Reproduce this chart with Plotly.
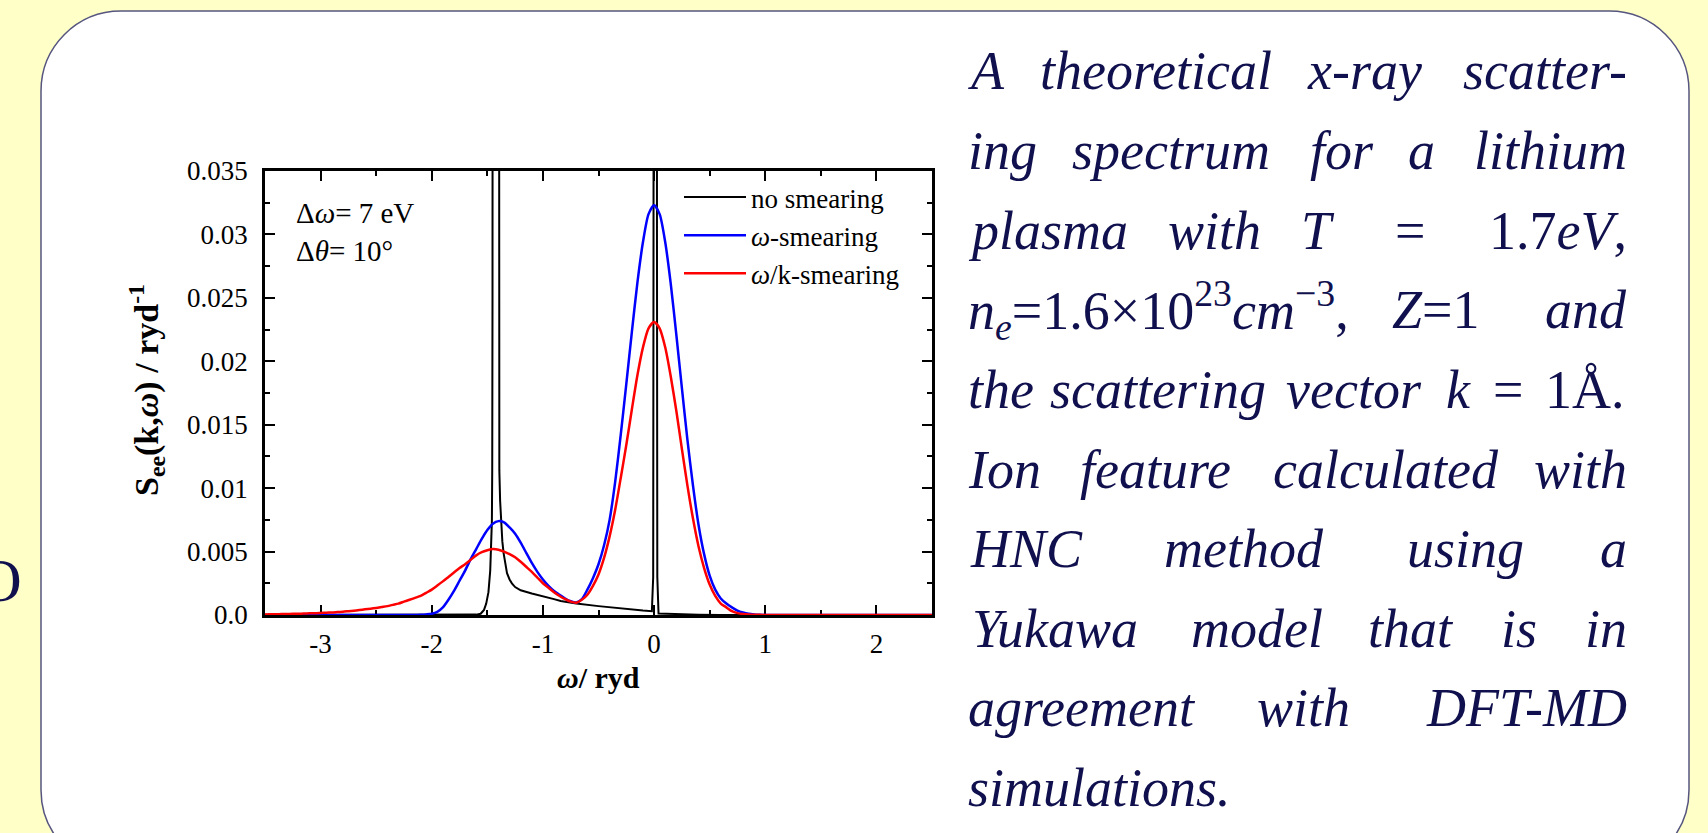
import plotly.graph_objects as go

W, H = 1708, 833
SERIF = "Liberation Serif"
NAVY = "#10104e"

# ---------------- data ----------------
omega = [
    -3.5, -3.45, -3.4, -3.35, -3.3, -3.25, -3.2, -3.15, -3.1, -3.05,
    -3.0, -2.95, -2.9, -2.85, -2.8, -2.75, -2.7, -2.65, -2.6, -2.55,
    -2.5, -2.45, -2.4, -2.35, -2.3, -2.25, -2.2, -2.15, -2.1, -2.05,
    -2.0, -1.95, -1.9, -1.85, -1.8, -1.75, -1.7, -1.65, -1.6, -1.55,
    -1.5, -1.45, -1.4, -1.35, -1.3, -1.25, -1.2, -1.15, -1.1, -1.05,
    -1.0, -0.95, -0.9, -0.85, -0.8, -0.75, -0.7, -0.65, -0.6, -0.55,
    -0.5, -0.45, -0.4, -0.35, -0.3, -0.25, -0.2, -0.15, -0.1, -0.05,
    0.0, 0.05, 0.1, 0.15, 0.2, 0.25, 0.3, 0.35, 0.4, 0.45,
    0.5, 0.55, 0.6, 0.65, 0.7, 0.75, 0.8, 0.85, 0.9, 0.95,
    1.0, 1.05, 1.1, 1.15, 1.2, 1.25, 1.3, 1.35, 1.4, 1.45,
    1.5, 1.55, 1.6, 1.65, 1.7, 1.75, 1.8, 1.85, 1.9, 1.95,
    2.0, 2.05, 2.1, 2.15, 2.2, 2.25, 2.3, 2.35, 2.4, 2.45,
    2.5,
]

s_omega_smearing = [
    0, 0, 0, 0, 0, 0, 0, 0, 0, 0,
    0, 0, 0, 0, 0, 0, 0, 0, 0, 0,
    0, 0, 0, 0, 0, 0, 0, 0, 0.00002, 0.00005,
    0.0001, 0.00025, 0.0006, 0.0012, 0.0019, 0.0027, 0.0035, 0.0044, 0.0052, 0.0060,
    0.0067, 0.0072, 0.0074, 0.0073, 0.0069, 0.0064, 0.0057, 0.0049, 0.0041, 0.0034,
    0.0028, 0.0023, 0.0019, 0.0016, 0.0013, 0.00108, 0.00098, 0.00125, 0.0020, 0.0029,
    0.0040, 0.0055, 0.0075, 0.0105, 0.0142, 0.0182, 0.0223, 0.0262, 0.0294, 0.0316,
    0.0323, 0.0316, 0.0294, 0.0261, 0.0221, 0.0179, 0.0138, 0.0102, 0.0071, 0.0048,
    0.0031, 0.0020, 0.0013, 0.0009, 0.0006, 0.00035, 0.0002, 0.0001, 0.00005, 0.00002,
    0, 0, 0, 0, 0, 0, 0, 0, 0, 0,
    0, 0, 0, 0, 0, 0, 0, 0, 0, 0,
    0, 0, 0, 0, 0, 0, 0, 0, 0, 0,
    0,
]

s_omega_k_smearing = [
    0.00004, 0.00005, 0.00006, 0.00007, 0.00008, 0.00009, 0.0001, 0.00011, 0.00013, 0.00014,
    0.00016, 0.00018, 0.0002, 0.00023, 0.00026, 0.0003, 0.00034, 0.00039, 0.00045, 0.0005,
    0.00056, 0.00063, 0.0007, 0.0008, 0.0009, 0.00105, 0.0012, 0.00135, 0.0015, 0.00175,
    0.0020, 0.00232, 0.00265, 0.0030, 0.00335, 0.0037, 0.0040, 0.00435, 0.0047, 0.00495,
    0.0051, 0.0052, 0.00515, 0.0050, 0.0048, 0.00455, 0.0042, 0.0038, 0.0034, 0.00295,
    0.0025, 0.00215, 0.0018, 0.0015, 0.00125, 0.00105, 0.00097, 0.0012, 0.0016, 0.0023,
    0.0032, 0.0045, 0.0062, 0.0083, 0.0108, 0.0134, 0.0162, 0.0189, 0.0211, 0.0226,
    0.0231, 0.0226, 0.0211, 0.0188, 0.0161, 0.0131, 0.0102, 0.0076, 0.0054, 0.0037,
    0.0024, 0.0015, 0.0009, 0.0006, 0.0003, 0.00015, 0.00008, 0.00004, 0.00002, 0.00001,
    0, 0, 0, 0, 0, 0, 0, 0, 0, 0,
    0, 0, 0, 0, 0, 0, 0, 0, 0, 0,
    0, 0, 0, 0, 0, 0, 0, 0, 0, 0,
    0,
]

omega_raw = [-3.5, -1.65, -1.6, -1.56, -1.53, -1.51, -1.49, -1.474, -1.465, -1.459, -1.456, -1.4535,
             -1.426, -1.3985, -1.392, -1.385, -1.378, -1.365, -1.354, -1.34, -1.323, -1.3, -1.279,
             -1.25, -1.2, -1.1, -1.0, -0.9, -0.84, -0.7, -0.5, -0.3, -0.1, -0.02, -0.008, -0.005,
             0.0105, 0.026, 0.029, 0.04, 0.2, 0.4, 0.6, 2.5]

s_no_smearing = [0, 0, 0.00003, 0.0001, 0.0004, 0.0009, 0.0018, 0.0035, 0.0055, 0.0074, 0.0114, 0.025,
                 0.6, 0.025, 0.0114, 0.0090, 0.0074, 0.0058, 0.0049, 0.0040, 0.0033, 0.0028, 0.0025,
                 0.0022, 0.00195, 0.0017, 0.0015, 0.00125, 0.0011, 0.0009, 0.0007, 0.0005, 0.00035,
                 0.0003, 0.003, 0.03, 1.0, 0.03, 0.003, 0.00012, 0.00006, 0.00002, 0, 0]

series_names = ["no smearing", "<i>ω</i>-smearing", "<i>ω</i>/k-smearing"]

x_tickvals = [-3, -2, -1, 0, 1, 2]
x_ticktext = ["-3", "-2", "-1", "0", "1", "2"]
y_tickvals = [0, 0.005, 0.01, 0.015, 0.02, 0.025, 0.03, 0.035]
y_ticktext = ["0.0", "0.005", "0.01", "0.015", "0.02", "0.025", "0.03", "0.035"]


def X(px):
    return px / W


def Y(py):
    return 1 - py / H


fig = go.Figure()
fig.add_trace(go.Scatter(x=omega_raw, y=s_no_smearing, mode="lines", name=series_names[0],
                         line=dict(color="black", width=2)))
fig.add_trace(go.Scatter(x=omega, y=s_omega_smearing, mode="lines", name=series_names[1],
                         line=dict(color="#0000ff", width=2.5, shape="spline", smoothing=0.7)))
fig.add_trace(go.Scatter(x=omega, y=s_omega_k_smearing, mode="lines", name=series_names[2],
                         line=dict(color="#ff0000", width=2.5, shape="spline", smoothing=0.7)))

axis_common = dict(
    showgrid=False, zeroline=False, showline=True, linecolor="black", linewidth=2.5,
    mirror="ticks", ticks="inside", ticklen=10, tickwidth=2, tickcolor="black",
    tickfont=dict(family=SERIF, size=27, color="black"), layer="below traces",
    automargin=False,
)

fig.update_xaxes(
    domain=[X(265), X(932)], range=[-3.5, 2.5], tickmode="array",
    tickvals=x_tickvals, ticktext=x_ticktext, ticklabelstandoff=3,
    minor=dict(tickmode="linear", tick0=0, dtick=0.5, ticks="inside", ticklen=5,
               tickwidth=1.5, tickcolor="black", showgrid=False),
    **axis_common,
)
fig.update_yaxes(
    domain=[Y(615), Y(171)], range=[0, 0.035], tickmode="array",
    tickvals=y_tickvals, ticktext=y_ticktext, ticklabelstandoff=9,
    minor=dict(tickmode="linear", tick0=0, dtick=0.0025, ticks="inside", ticklen=5,
               tickwidth=1.5, tickcolor="black", showgrid=False),
    **axis_common,
)

# rounded white panel
L, R, T, B, r = 41, 1689, 11, 870, 80
k = 0.5523
path = (
    f"M {X(L + r)},{Y(T)} L {X(R - r)},{Y(T)} "
    f"C {X(R - r + k * r)},{Y(T)} {X(R)},{Y(T + r - k * r)} {X(R)},{Y(T + r)} "
    f"L {X(R)},{Y(B - r)} "
    f"C {X(R)},{Y(B - r + k * r)} {X(R - r + k * r)},{Y(B)} {X(R - r)},{Y(B)} "
    f"L {X(L + r)},{Y(B)} "
    f"C {X(L + r - k * r)},{Y(B)} {X(L)},{Y(B - r + k * r)} {X(L)},{Y(B - r)} "
    f"L {X(L)},{Y(T + r)} "
    f"C {X(L)},{Y(T + r - k * r)} {X(L + r - k * r)},{Y(T)} {X(L + r)},{Y(T)} Z"
)
fig.add_shape(type="path", path=path, xref="paper", yref="paper", layer="below",
              fillcolor="white", line=dict(color="#55557f", width=1.5))

annotations = []

# axis titles
annotations.append(dict(text="<b><i>ω</i>/ ryd</b>", x=X(598.5), y=Y(677), xref="paper", yref="paper",
                        xanchor="center", yanchor="middle", showarrow=False,
                        font=dict(family=SERIF, size=30, color="black")))
annotations.append(dict(text="<b>S<sub>ee</sub>(k,<i>ω</i>) / ryd<sup>-1</sup></b>", x=X(146), y=Y(390),
                        xref="paper", yref="paper", xanchor="center", yanchor="middle",
                        textangle=-90, showarrow=False,
                        font=dict(family=SERIF, size=34, color="black")))
# in-plot labels
annotations.append(dict(text="Δ<i>ω</i>= 7 eV", x=X(294), y=Y(213), xref="paper", yref="paper",
                        xanchor="left", yanchor="middle", showarrow=False,
                        font=dict(family=SERIF, size=29, color="black")))
annotations.append(dict(text="Δ<i>θ</i>= 10°", x=X(294), y=Y(251), xref="paper", yref="paper",
                        xanchor="left", yanchor="middle", showarrow=False,
                        font=dict(family=SERIF, size=29, color="black")))

# partial glyph at the left edge
annotations.append(dict(text="O", x=X(24), y=Y(580), xref="paper", yref="paper",
                        xanchor="right", yanchor="middle", showarrow=False,
                        font=dict(family=SERIF, size=62, color=NAVY)))

# justified text block on the right
FS = 54
text_lines = [
    (87.7, [("<i>A</i>", 966, "left"), ("<i>theoretical</i>", 1156, "center"),
            ("<i>x-ray</i>", 1364, "center"), ("<i>scatter-</i>", 1629, "right")]),
    (167.5, [("<i>ing</i>", 966, "left"), ("<i>spectrum</i>", 1171, "center"),
             ("<i>for</i>", 1342, "center"), ("<i>a</i>", 1421, "center"),
             ("<i>lithium</i>", 1629, "right")]),
    (247, [("<i>plasma</i>", 966, "left"), ("<i>with</i>", 1214, "center"),
           ("<i>T</i>", 1318, "center"), ("=", 1410, "center"),
           ("1.7<i>eV</i>,", 1629, "right")]),
    (326.5, [("<i>n</i><sub><i>e</i></sub>=1.6×10<sup>23</sup><i>cm</i><sup>−3</sup>,", 966, "left"),
             ("<i>Z</i>=1", 1436, "center"), ("<i>and</i>", 1629, "right")]),
    (406, [("<i>the</i>", 966, "left"), ("<i>scattering</i>", 1158, "center"),
           ("<i>vector</i>", 1354, "center"), ("<i>k</i>", 1458, "center"),
           ("=", 1508, "center"), ("1Å.", 1627, "right")]),
    (486, [("<i>Ion</i>", 966, "left"), ("<i>feature</i>", 1155, "center"),
           ("<i>calculated</i>", 1386, "center"), ("<i>with</i>", 1629, "right")]),
    (565, [("<i>HNC</i>", 968, "left"), ("<i>method</i>", 1244, "center"),
           ("<i>using</i>", 1465, "center"), ("<i>a</i>", 1629, "right")]),
    (645, [("<i>Yukawa</i>", 970, "left"), ("<i>model</i>", 1257, "center"),
           ("<i>that</i>", 1411, "center"), ("<i>is</i>", 1519, "center"),
           ("<i>in</i>", 1629, "right")]),
    (724.5, [("<i>agreement</i>", 966, "left"), ("<i>with</i>", 1303, "center"),
             ("<i>DFT-MD</i>", 1629, "right")]),
    (804, [("<i>simulations.</i>", 966, "left")]),
]
for baseline, words in text_lines:
    for txt, xpx, anchor in words:
        annotations.append(dict(text=txt, x=X(xpx), y=Y(baseline - 0.3 * FS), xref="paper",
                                yref="paper", xanchor=anchor, yanchor="middle", showarrow=False,
                                font=dict(family=SERIF, size=FS, color=NAVY)))

fig.update_layout(
    width=W, height=H, autosize=False,
    margin=dict(l=0, r=0, t=0, b=0),
    paper_bgcolor="#ffffc8", plot_bgcolor="white",
    font=dict(family=SERIF, color="black"),
    showlegend=True,
    legend=dict(x=X(679), y=Y(173), xanchor="left", yanchor="top",
                bgcolor="rgba(0,0,0,0)", borderwidth=0,
                font=dict(family=SERIF, size=27, color="black"),
                itemwidth=62, tracegroupgap=0),
    annotations=annotations,
)

fig.write_html("out.html", config={"displayModeBar": False},
               post_script="document.body.style.margin='0px';")
